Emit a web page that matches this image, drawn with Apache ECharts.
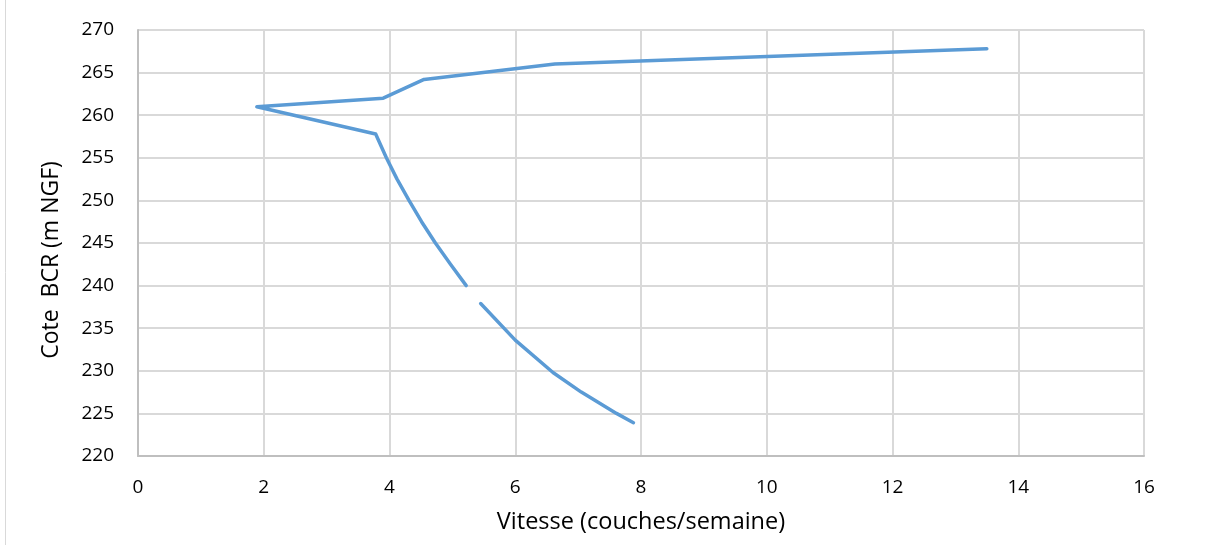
<!DOCTYPE html>
<html>
<head>
<meta charset="utf-8">
<script src="https://cdn.jsdelivr.net/npm/echarts@6/dist/echarts.min.js"></script>
<style>
html,body{margin:0;padding:0;background:#fff;}
#chart{width:1208px;height:545px;}
</style>
</head>
<body>
<div id="chart"></div>
<script>
// Data (null = gap in the line)
const vitesse = [7.88, 7.61, 7.05, 6.60, 6.00, 5.45, null, 5.22, 4.97, 4.73, 4.51, 4.31, 4.12, 3.95, 3.78, 1.89, 3.90, 4.55, 6.63, 13.50];
const cote    = [223.9, 225.0, 227.5, 229.8, 233.6, 237.9, null, 240.0, 242.5, 245.0, 247.5, 250.0, 252.5, 255.0, 257.8, 261.0, 262.0, 264.2, 266.0, 267.8];
const xTitle = 'Vitesse (couches/semaine)';
const yTitle = 'Cote  BCR (m NGF)';

const seriesData = vitesse.map((x, i) => (x === null || cote[i] === null) ? [5.33, '-'] : [x, cote[i]]);

const font = 'Open Sans';
const chart = echarts.init(document.getElementById('chart'));
chart.setOption({
  animation: false,
  backgroundColor: '#ffffff',
  graphic: [{
    type: 'line', silent: true,
    shape: {x1: 5.5, y1: 0, x2: 5.5, y2: 545},
    style: {stroke: '#d9d9d9', lineWidth: 1}
  }],
  grid: {left: 138, right: 64, top: 30, bottom: 89, containLabel: false},
  xAxis: {
    type: 'value', min: 0, max: 16, interval: 2,
    name: xTitle, nameLocation: 'middle', nameGap: 54,
    nameTextStyle: {fontFamily: font, fontSize: 23.5, color: '#000'},
    axisLine: {show: true, lineStyle: {color: '#bfbfbf', width: 2}},
    axisTick: {show: false},
    axisLabel: {fontFamily: font, fontSize: 19, color: '#000', margin: 22},
    splitLine: {show: true, lineStyle: {color: '#d9d9d9', width: 2}}
  },
  yAxis: {
    type: 'value', min: 220, max: 270, interval: 5,
    name: yTitle, nameLocation: 'middle', nameGap: 75, nameRotate: 90,
    nameTextStyle: {fontFamily: font, fontSize: 23, color: '#000', padding: [0, 34, 0, 0]},
    axisLine: {show: true, lineStyle: {color: '#bfbfbf', width: 2}},
    axisTick: {show: false},
    axisLabel: {fontFamily: font, fontSize: 19, color: '#000', margin: 24},
    splitLine: {show: true, lineStyle: {color: '#d9d9d9', width: 2}}
  },
  series: [{
    type: 'line',
    data: seriesData,
    showSymbol: false,
    connectNulls: false,
    lineStyle: {color: '#5b9bd5', width: 3.5, cap: 'round', join: 'round'},
    itemStyle: {color: '#5b9bd5'}
  }]
});
</script>
</body>
</html>
